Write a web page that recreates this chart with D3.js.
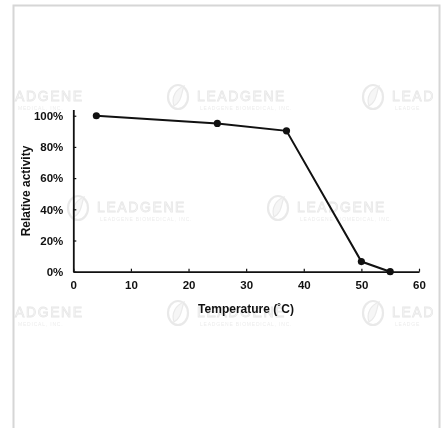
<!DOCTYPE html>
<html>
<head>
<meta charset="utf-8">
<script src="https://cdn.jsdelivr.net/npm/d3@7"></script>
<style>
  html, body { margin: 0; padding: 0; background: #fff; }
  svg { display: block; }
  text { font-family: "Liberation Sans", Arial, sans-serif; font-weight: bold; fill: #111; }
</style>
</head>
<body>
<svg id="chart" width="445" height="428"></svg>
<script>
// Thermal stability: relative activity vs. temperature
const temperatures = [4, 25, 37, 50, 55];
const activity = [1.00, 0.951, 0.903, 0.065, 0.0];
const xTicks = [0, 10, 20, 30, 40, 50, 60];
const yTicks = [0, 0.2, 0.4, 0.6, 0.8, 1.0];
const xTitle = "Temperature (˚C)";
const yTitle = "Relative activity";

const svg = d3.select("#chart");

// outer frame
svg.append("rect")
  .attr("x", 13.5).attr("y", 5.5)
  .attr("width", 426).attr("height", 440)
  .attr("fill", "#fff")
  .attr("stroke", "#d6d6d6").attr("stroke-width", 2);

// faint brand watermarks; the ones at the frame edges show only part of the name
const marks = [
  { cx: null, cy: 97, name: "ADGENE", sub: "MEDICAL, INC.", tx: 15 },
  { cx: 178, cy: 97, name: "LEADGENE", sub: "LEADGENE BIOMEDICAL, INC." },
  { cx: 373, cy: 97, name: "LEAD", sub: "LEADGE" },
  { cx: 78, cy: 208, name: "LEADGENE", sub: "LEADGENE BIOMEDICAL, INC." },
  { cx: 278, cy: 208, name: "LEADGENE", sub: "LEADGENE BIOMEDICAL, INC." },
  { cx: null, cy: 313, name: "ADGENE", sub: "MEDICAL, INC.", tx: 15 },
  { cx: 178, cy: 313, name: "LEADGENE", sub: "LEADGENE BIOMEDICAL, INC." },
  { cx: 373, cy: 313, name: "LEAD", sub: "LEADGE" }
];
const wm = svg.append("g").attr("opacity", 0.55);
marks.forEach(m => {
  const ox = m.cx === null ? m.tx - 19 : m.cx;
  const g = wm.append("g").attr("transform", `translate(${ox},${m.cy})`);
  if (m.cx !== null) {
    g.append("ellipse").attr("rx", 10).attr("ry", 12)
      .attr("fill", "none").attr("stroke", "#d8d8d8").attr("stroke-width", 2.2);
    g.append("path").attr("d", "M-4,9 C-7,0 -2,-8 6,-11 C3,-3 4,4 -4,9 Z")
      .attr("fill", "#eeeeee").attr("stroke", "#d8d8d8").attr("stroke-width", 1.2);
  }
  g.append("text").attr("x", 19).attr("y", 4)
    .attr("font-size", 14).attr("letter-spacing", 1.6)
    .style("font-weight", "normal")
    .style("fill", "#f6f6f6").style("stroke", "#d4d4d4").style("stroke-width", 0.8)
    .text(m.name);
  g.append("text").attr("x", 22).attr("y", 13)
    .attr("font-size", 5).attr("letter-spacing", 0.8)
    .style("font-weight", "normal").style("fill", "#dcdcdc")
    .text(m.sub);
});

// scales
const x = d3.scaleLinear().domain([0, 60]).range([73.3, 419]);
const y = d3.scaleLinear().domain([0, 1.04]).range([271.7, 109.5]);

// y axis
const yAxis = svg.append("g")
  .attr("transform", `translate(${x(0)},0)`)
  .call(d3.axisLeft(y).tickValues(yTicks).tickFormat(d3.format(".0%"))
    .tickSizeInner(-3).tickSizeOuter(0).tickPadding(10));
yAxis.attr("font-family", null);
yAxis.select(".domain").attr("stroke", "#111").attr("stroke-width", 1.8);
yAxis.selectAll(".tick line").attr("stroke", "#111").attr("stroke-width", 1.2);
yAxis.selectAll("text").attr("font-size", 11.5);

// x axis
const xAxis = svg.append("g")
  .attr("transform", `translate(0,${y(0)})`)
  .call(d3.axisBottom(x).tickValues(xTicks).tickFormat(d3.format("d"))
    .tickSizeInner(-3).tickSizeOuter(0).tickPadding(9));
xAxis.attr("font-family", null);
xAxis.select(".domain").attr("stroke", "#111").attr("stroke-width", 1.8);
xAxis.selectAll(".tick line").attr("stroke", "#111").attr("stroke-width", 1.2);
xAxis.selectAll("text").attr("font-size", 11.5);

// axis titles
svg.append("text")
  .attr("x", 246).attr("y", 313)
  .attr("text-anchor", "middle").attr("font-size", 12)
  .text(xTitle);
svg.append("text")
  .attr("transform", `translate(30,${191}) rotate(-90)`)
  .attr("text-anchor", "middle").attr("font-size", 12)
  .text(yTitle);

// data line and markers
const pts = temperatures.map((t, i) => [t, activity[i]]);
svg.append("path")
  .datum(pts)
  .attr("fill", "none").attr("stroke", "#111").attr("stroke-width", 2)
  .attr("d", d3.line().x(d => x(d[0])).y(d => y(d[1])));
svg.selectAll("circle.pt")
  .data(pts).enter().append("circle")
  .attr("class", "pt")
  .attr("cx", d => x(d[0])).attr("cy", d => y(d[1]))
  .attr("r", 3.6).attr("fill", "#111");
</script>
</body>
</html>
